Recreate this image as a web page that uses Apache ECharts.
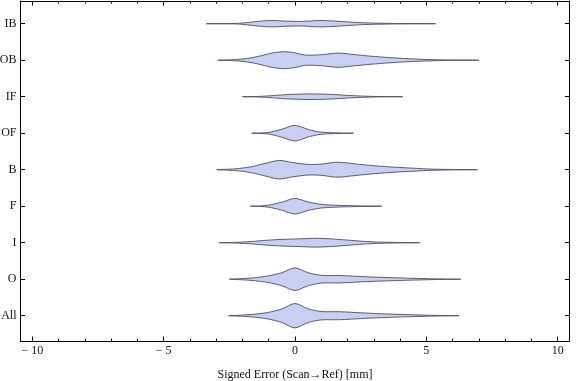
<!DOCTYPE html>
<html>
<head>
<meta charset="utf-8">
<script src="https://cdn.jsdelivr.net/npm/echarts@6/dist/echarts.min.js"></script>
<style>html,body{margin:0;padding:0;background:#fff}#c{width:576px;height:381px}</style>
</head>
<body>
<div id="c"></div>
<script>
// Categories from top to bottom
const categories = ['IB', 'OB', 'IF', 'OF', 'B', 'F', 'I', 'O', 'All'];
const xTickLabels = [-10, -5, 0, 5, 10];
const xMinorTicks = [-10,-9,-8,-7,-6,-5,-4,-3,-2,-1,0,1,2,3,4,5,6,7,8,9,10];

// Violin profiles: x = signed error [mm], d = estimated density (relative)
const xs_IB  = [-3.38,-2.2,-1.8,-1.3,-0.85,-0.3,0.3,0.95,1.6,2.3,3.0,3.8,4.6,5.35];
const d_IB   = [0,0.3,1.2,2.6,3.2,2.5,2.3,3.2,2.5,1.3,0.6,0.25,0.1,0];
const xs_OB  = [-2.94,-2.4,-1.8,-1.27,-0.85,-0.4,0.0,0.4,1.0,1.65,2.3,2.9,3.6,4.3,5.3,6.2,7.01];
const d_OB   = [0,0.4,1.8,4.6,7.3,8.5,7.3,5.1,5.5,7.1,5.5,4.0,2.6,1.5,0.5,0.15,0];
const xs_IF  = [-2.0,-1.5,-1.0,-0.4,0.5,1.3,2.0,2.7,3.3,4.1];
const d_IF   = [0,0.2,0.8,2.0,2.8,2.4,1.3,0.5,0.15,0];
const xs_OF  = [-1.65,-1.3,-1.0,-0.5,0.0,0.5,0.9,1.3,1.8,2.22];
const d_OF   = [0,0.2,0.8,4.0,7.8,3.8,1.4,0.6,0.2,0];
const xs_B   = [-2.98,-2.3,-1.7,-1.15,-0.6,-0.1,0.5,1.0,1.6,2.3,3.0,3.8,4.5,5.2,5.9,6.94];
const d_B    = [0,0.8,2.8,6.2,9.3,7.2,5.3,5.6,7.5,5.8,4.0,2.5,1.5,0.6,0.25,0];
const xs_F   = [-1.71,-1.3,-1.0,-0.5,0.0,0.5,1.0,1.6,2.3,3.3];
const d_F    = [0,0.3,1.0,4.0,7.8,4.2,1.8,0.9,0.4,0];
const xs_I   = [-2.89,-2.3,-1.8,-1.2,-0.6,0.2,0.8,1.4,2.0,2.6,3.1,3.8,4.75];
const d_I    = [0,0.3,0.9,2.2,3.2,3.9,4.4,3.8,2.6,1.4,0.7,0.3,0];
const xs_O   = [-2.5,-2.0,-1.5,-1.0,-0.5,0.0,0.5,1.0,1.7,2.5,3.3,4.5,5.4,6.31];
const d_O    = [0,0.6,1.6,3.4,6.5,11.3,6.5,3.9,3.7,2.7,1.8,0.9,0.3,0];
const xs_All = [-2.53,-2.0,-1.5,-1.0,-0.5,0.0,0.5,1.0,1.7,2.5,3.3,4.5,5.4,6.25];
const d_All  = [0,0.6,1.6,3.4,6.8,12.2,6.8,4.2,4.0,2.9,1.9,0.9,0.3,0];

const profiles = [
  [xs_IB, d_IB], [xs_OB, d_OB], [xs_IF, d_IF], [xs_OF, d_OF], [xs_B, d_B],
  [xs_F, d_F], [xs_I, d_I], [xs_O, d_O], [xs_All, d_All]
];
const N = categories.length;
const yPos = categories.map((c, i) => N - i); // IB top = 9, All bottom = 1
const DENS_TO_Y = 1 / 36.5; // half-width in category units per density unit

const seriesData = profiles.map((p, i) => [p[0][0], yPos[i], p[0][p[0].length - 1], i]);

const font = '"Liberation Serif", "DejaVu Serif", serif';
const minus = v => (v < 0 ? '\u2212 ' + Math.abs(v) : String(v));

const chart = echarts.init(document.getElementById('c'), null, {renderer: 'canvas'});
const yMin = 0.307, yMax = 9.622, xMin = -10.45, xMax = 10.45;
const lineStyle = {color: '#000', width: 1};

chart.setOption({
  animation: false,
  grid: {left: 20.5, right: 6.5, top: 1, bottom: 40, containLabel: false, outerBoundsMode: 'none'},
  xAxis: [
    {type: 'value', position: 'bottom', min: xMin, max: xMax,
     axisLine: {show: true, lineStyle: lineStyle, onZero: false},
     axisTick: {show: true, inside: true, length: 4.5, lineStyle: lineStyle, customValues: xTickLabels},
     axisLabel: {show: true, customValues: xTickLabels, formatter: minus, color: '#111',
                 fontFamily: font, fontSize: 12, margin: 4},
     splitLine: {show: false},
     name: 'Signed Error (Scan\u2192Ref) [mm]', nameLocation: 'middle', nameGap: 28,
     nameTextStyle: {fontFamily: font, fontSize: 12, color: '#111'}},
    {type: 'value', position: 'bottom', min: xMin, max: xMax,
     axisLine: {show: false},
     axisTick: {show: true, inside: true, length: 2.5, lineStyle: lineStyle, customValues: xMinorTicks},
     axisLabel: {show: false}, splitLine: {show: false}},
    {type: 'value', position: 'top', min: xMin, max: xMax,
     axisLine: {show: true, lineStyle: lineStyle, onZero: false},
     axisTick: {show: true, inside: true, length: 4.5, lineStyle: lineStyle, customValues: xTickLabels},
     axisLabel: {show: false}, splitLine: {show: false}},
    {type: 'value', position: 'top', min: xMin, max: xMax,
     axisLine: {show: false},
     axisTick: {show: true, inside: true, length: 2.5, lineStyle: lineStyle, customValues: xMinorTicks},
     axisLabel: {show: false}, splitLine: {show: false}}
  ],
  yAxis: [
    {type: 'value', position: 'left', min: yMin, max: yMax,
     axisLine: {show: true, lineStyle: lineStyle, onZero: false},
     axisTick: {show: true, inside: true, length: 4.5, lineStyle: lineStyle, customValues: yPos},
     axisLabel: {show: true, customValues: yPos, formatter: v => categories[N - Math.round(v)],
                 color: '#111', fontFamily: font, fontSize: 12, margin: 4},
     splitLine: {show: false}},
    {type: 'value', position: 'right', min: yMin, max: yMax,
     axisLine: {show: true, lineStyle: lineStyle, onZero: false},
     axisTick: {show: true, inside: true, length: 4.5, lineStyle: lineStyle, customValues: yPos},
     axisLabel: {show: false}, splitLine: {show: false}}
  ],
  series: [{
    type: 'custom',
    xAxisIndex: 0, yAxisIndex: 0,
    data: seriesData,
    encode: {x: [0, 2], y: 1},
    renderItem: function (params, api) {
      const idx = api.value(3);
      const yc = api.value(1);
      const xs = profiles[idx][0], ds = profiles[idx][1];
      const pts = [];
      for (let k = 0; k < xs.length; k++) pts.push(api.coord([xs[k], yc + ds[k] * DENS_TO_Y]));
      for (let k = xs.length - 2; k > 0; k--) pts.push(api.coord([xs[k], yc - ds[k] * DENS_TO_Y]));
      return {
        type: 'polygon',
        shape: {points: pts, smooth: 0.28},
        style: {fill: '#c9cef3', stroke: '#4d4d5c', lineWidth: 0.9}
      };
    }
  }]
});
</script>
</body>
</html>
